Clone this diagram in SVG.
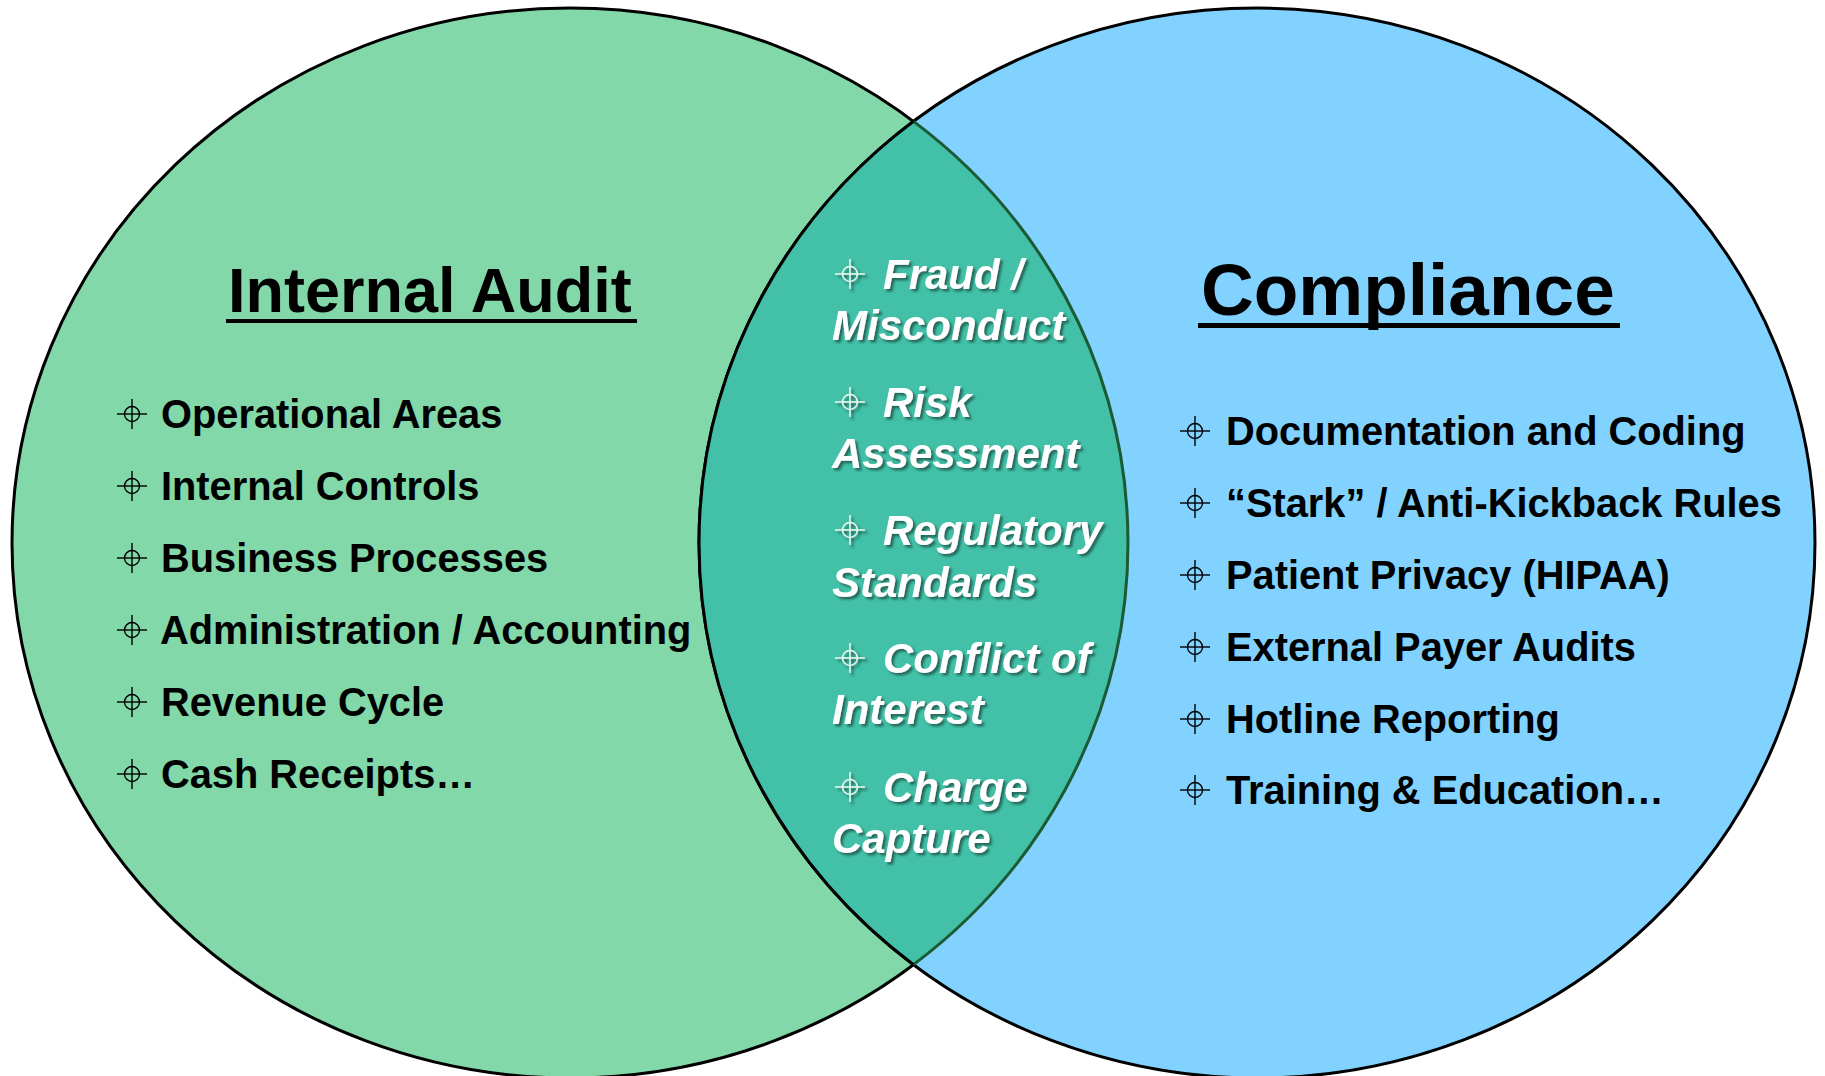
<svg xmlns="http://www.w3.org/2000/svg" xmlns:xlink="http://www.w3.org/1999/xlink" width="1825" height="1076" viewBox="0 0 1825 1076">
<style>
.lst{font-family:"Liberation Sans",Arial,sans-serif;font-weight:bold;font-size:39.8px;fill:#000}
.mid{font-family:"Liberation Sans",Arial,sans-serif;font-weight:bold;font-style:italic;font-size:42px;fill:#fff}
.ttl{font-family:"Liberation Sans",Arial,sans-serif;font-weight:bold;fill:#000}
.bk{fill:none;stroke:#000;stroke-width:1.4}
.wh{fill:none;stroke:#e4f6ee;stroke-width:1.6}
</style>
<defs>
<g id="bul"><circle cx="0" cy="0" r="7.5"/><line x1="-15" y1="0" x2="15" y2="0"/><line x1="0" y1="-15" x2="0" y2="15"/></g>
<filter id="sh" x="-10%" y="-30%" width="130%" height="170%">
<feDropShadow dx="2.5" dy="2.5" stdDeviation="1.2" flood-color="#1c4a40" flood-opacity="0.75"/>
</filter>
</defs>

<g id="shapes">
<ellipse id="audit-circle" cx="570" cy="543" rx="558" ry="535" fill="#82d8a8" stroke="#000" stroke-width="3"/>
<ellipse id="compliance-circle" cx="1257" cy="543" rx="558" ry="535" fill="#82d2ff" stroke="#000" stroke-width="3"/>
<path id="overlap" d="M 913.5 121.4 A 558 535 0 0 1 913.5 964.6 A 558 535 0 0 1 913.5 121.4 Z" fill="#42c1a8"/>
<path d="M 913.5 121.4 A 558 535 0 0 1 913.5 964.6" fill="none" stroke="#1b5a33" stroke-width="3"/>
<path d="M 913.5 964.6 A 558 535 0 0 1 913.5 121.4" fill="none" stroke="#000" stroke-width="3"/>
</g>

<g id="internal-audit">
<text class="ttl" x="228" y="312" font-size="63">Internal Audit</text>
<rect x="226" y="319" width="411" height="4" fill="#000"/>
<g class="bk">
<use xlink:href="#bul" x="132" y="414"/>
<use xlink:href="#bul" x="132" y="486"/>
<use xlink:href="#bul" x="132" y="558"/>
<use xlink:href="#bul" x="132" y="630"/>
<use xlink:href="#bul" x="132" y="702"/>
<use xlink:href="#bul" x="132" y="774"/>
</g>
<text class="lst" x="161" y="428">Operational Areas</text>
<text class="lst" x="161" y="500">Internal Controls</text>
<text class="lst" x="161" y="572">Business Processes</text>
<text class="lst" x="160" y="644">Administration / Accounting</text>
<text class="lst" x="161" y="716">Revenue Cycle</text>
<text class="lst" x="161" y="788">Cash Receipts…</text>
</g>

<g id="compliance">
<text class="ttl" x="1201" y="315" font-size="73">Compliance</text>
<rect x="1198" y="323" width="422" height="5" fill="#000"/>
<g class="bk">
<use xlink:href="#bul" x="1195" y="431"/>
<use xlink:href="#bul" x="1195" y="503"/>
<use xlink:href="#bul" x="1195" y="575"/>
<use xlink:href="#bul" x="1195" y="647"/>
<use xlink:href="#bul" x="1195" y="719"/>
<use xlink:href="#bul" x="1195" y="790"/>
</g>
<text class="lst" x="1226" y="445">Documentation and Coding</text>
<text class="lst" x="1226" y="517">“Stark” / Anti-Kickback Rules</text>
<text class="lst" x="1226" y="589">Patient Privacy (HIPAA)</text>
<text class="lst" x="1226" y="661">External Payer Audits</text>
<text class="lst" x="1226" y="733">Hotline Reporting</text>
<text class="lst" x="1226" y="804">Training &amp; Education…</text>
</g>

<g id="overlap-items" filter="url(#sh)">
<g class="wh">
<use xlink:href="#bul" x="850" y="274"/>
<use xlink:href="#bul" x="850" y="402"/>
<use xlink:href="#bul" x="850" y="530"/>
<use xlink:href="#bul" x="850" y="658"/>
<use xlink:href="#bul" x="850" y="787"/>
</g>
<text class="mid" x="883" y="289">Fraud /</text>
<text class="mid" x="832" y="340">Misconduct</text>
<text class="mid" x="883" y="417">Risk</text>
<text class="mid" x="832" y="468">Assessment</text>
<text class="mid" x="883" y="545">Regulatory</text>
<text class="mid" x="832" y="597">Standards</text>
<text class="mid" x="883" y="673">Conflict of</text>
<text class="mid" x="832" y="724">Interest</text>
<text class="mid" x="883" y="802">Charge</text>
<text class="mid" x="832" y="853">Capture</text>
</g>
</svg>
